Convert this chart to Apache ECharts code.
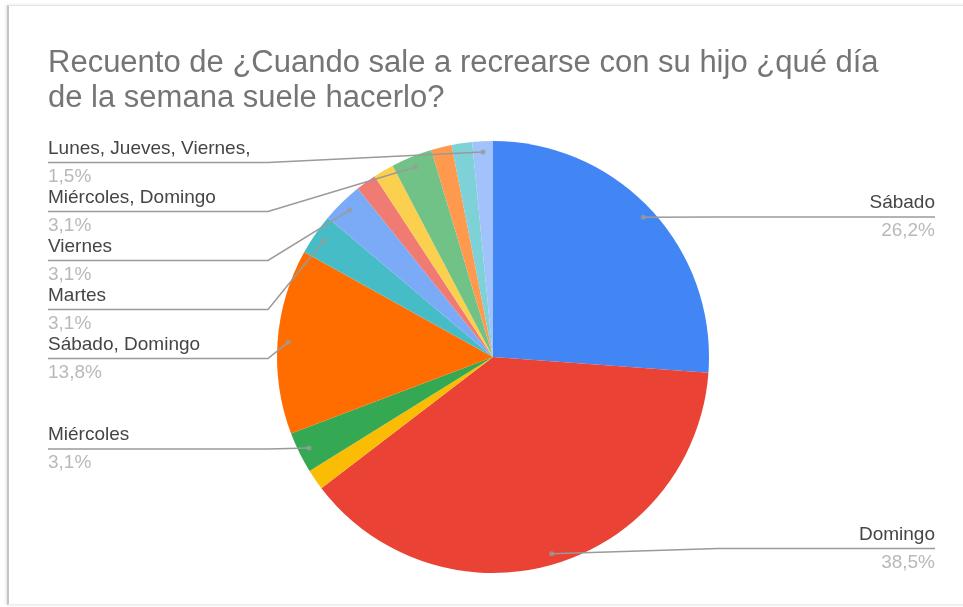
<!DOCTYPE html>
<html>
<head>
<meta charset="utf-8">
<script src="https://cdn.jsdelivr.net/npm/echarts@6/dist/echarts.min.js"></script>
<style>
  html, body { margin: 0; padding: 0; width: 963px; height: 607px; overflow: hidden; background: #ffffff; }
  #frame {
    position: absolute; left: 7px; top: 5px; width: 970px; height: 598px;
    border-left: 2px solid #c4c4c4; border-top: 1px solid #e4e4e4; border-bottom: 1px solid #ececec;
    box-shadow: -1px 0 3px rgba(0,0,0,0.12);
  }
  #chart { position: absolute; left: 9px; top: 0; width: 965px; height: 607px; }
</style>
</head>
<body>
<div id="frame"></div>
<div id="chart"></div>
<script>
// Answers and how many people gave each one (clockwise from 12 o'clock)
const categories = [
  'Sábado', 'Domingo', 'Jueves', 'Miércoles', 'Sábado, Domingo', 'Martes',
  'Viernes', 'Lunes', 'Viernes, Sábado', 'Miércoles, Domingo', 'Viernes, Domingo',
  'Martes, Jueves', 'Lunes, Jueves, Viernes,'
];
const counts = [17, 25, 1, 2, 9, 2, 2, 1, 1, 2, 1, 1, 1];
const sliceColors = [
  '#4285F4', '#EA4335', '#FBBC04', '#34A853', '#FF6D01', '#46BDC6',
  '#7BAAF7', '#F07B72', '#FCD04F', '#71C287', '#FF994D', '#7ED1D7', '#A1C2FA'
];
// Slices that get a callout label
const labelledCategories = [
  'Sábado', 'Domingo', 'Miércoles', 'Sábado, Domingo', 'Martes', 'Viernes',
  'Miércoles, Domingo', 'Lunes, Jueves, Viernes,'
];
const titleText = 'Recuento de ¿Cuando sale a recrearse con su hijo ¿qué día\nde la semana suele hacerlo?';

// Layout (container pixels)
const CX = 484, CY = 357, R = 216, DOT_R = 0.95;
const LABEL_TOP = 138, LABEL_BOTTOM = 573;
const FONT = '"Liberation Sans", Arial, sans-serif';

const total = counts.reduce((a, b) => a + b, 0);
const fmtPct = v => (v / total * 100).toFixed(1).replace('.', ',') + '%';

const pieData = categories.map((name, i) => ({
  name, value: counts[i], itemStyle: { color: sliceColors[i] }
}));
const labelData = categories.map((name, i) => ({
  name, value: counts[i],
  label: { show: labelledCategories.includes(name) },
  labelLine: { show: labelledCategories.includes(name) }
}));

// Anchor dots sit inside each labelled slice, at the middle of its angle
const dotData = [];
let acc = 0;
categories.forEach((name, i) => {
  if (labelledCategories.includes(name)) dotData.push([DOT_R, acc + counts[i] / 2]);
  acc += counts[i];
});

const chart = echarts.init(document.getElementById('chart'), null, { renderer: 'canvas' });
chart.setOption({
  animation: false,
  backgroundColor: 'transparent',
  title: {
    text: titleText, left: 39, top: 46, padding: 0,
    textStyle: { fontFamily: FONT, fontSize: 31, fontWeight: 'normal', color: '#757575', lineHeight: 35 }
  },
  polar: { center: [CX, CY], radius: R },
  angleAxis: { type: 'value', min: 0, max: total, startAngle: 90, clockwise: true, show: false },
  radiusAxis: { type: 'value', min: 0, max: 1, show: false },
  series: [
    {
      type: 'pie', z: 2, center: [CX, CY], radius: R, startAngle: 90, clockwise: true,
      label: { show: false }, labelLine: { show: false }, silent: true,
      emphasis: { disabled: true },
      itemStyle: { borderWidth: 0 },
      data: pieData
    },
    {
      type: 'pie', z: 5, top: LABEL_TOP, height: LABEL_BOTTOM - LABEL_TOP,
      center: [CX, CY - LABEL_TOP], radius: R * DOT_R, startAngle: 90, clockwise: true,
      silent: true, emphasis: { disabled: true },
      itemStyle: { color: 'rgba(0,0,0,0)', borderWidth: 0 },
      avoidLabelOverlap: true,
      label: {
        alignTo: 'edge', edgeDistance: 39, bleedMargin: 0,
        formatter: p => '{n|' + p.name + '}\n{p|' + fmtPct(p.value) + '}',
        rich: {
          n: { fontFamily: FONT, fontSize: 19, lineHeight: 29, color: '#454545' },
          p: { fontFamily: FONT, fontSize: 19, lineHeight: 27, color: '#b9b9b9' }
        }
      },
      labelLine: { length: 1, length2: 0, smooth: false, lineStyle: { color: '#9a9a9a', width: 1.5 } },
      labelLayout: params => {
        const pts = params.labelLinePoints;
        if (!pts) return {};
        const rect = params.labelRect;
        const isLeft = rect.x + rect.width / 2 < CX;
        const y = rect.y + rect.height / 2;
        const knee = isLeft ? CX - (R + 9) : CX + (R + 9);
        pts[1] = [knee, y];
        pts[2] = [isLeft ? rect.x : rect.x + rect.width, y];
        return { labelLinePoints: pts };
      },
      data: labelData
    },
    {
      type: 'scatter', coordinateSystem: 'polar', z: 6, silent: true,
      symbolSize: 5, itemStyle: { color: '#9a9a9a' },
      data: dotData
    }
  ]
});
</script>
</body>
</html>
